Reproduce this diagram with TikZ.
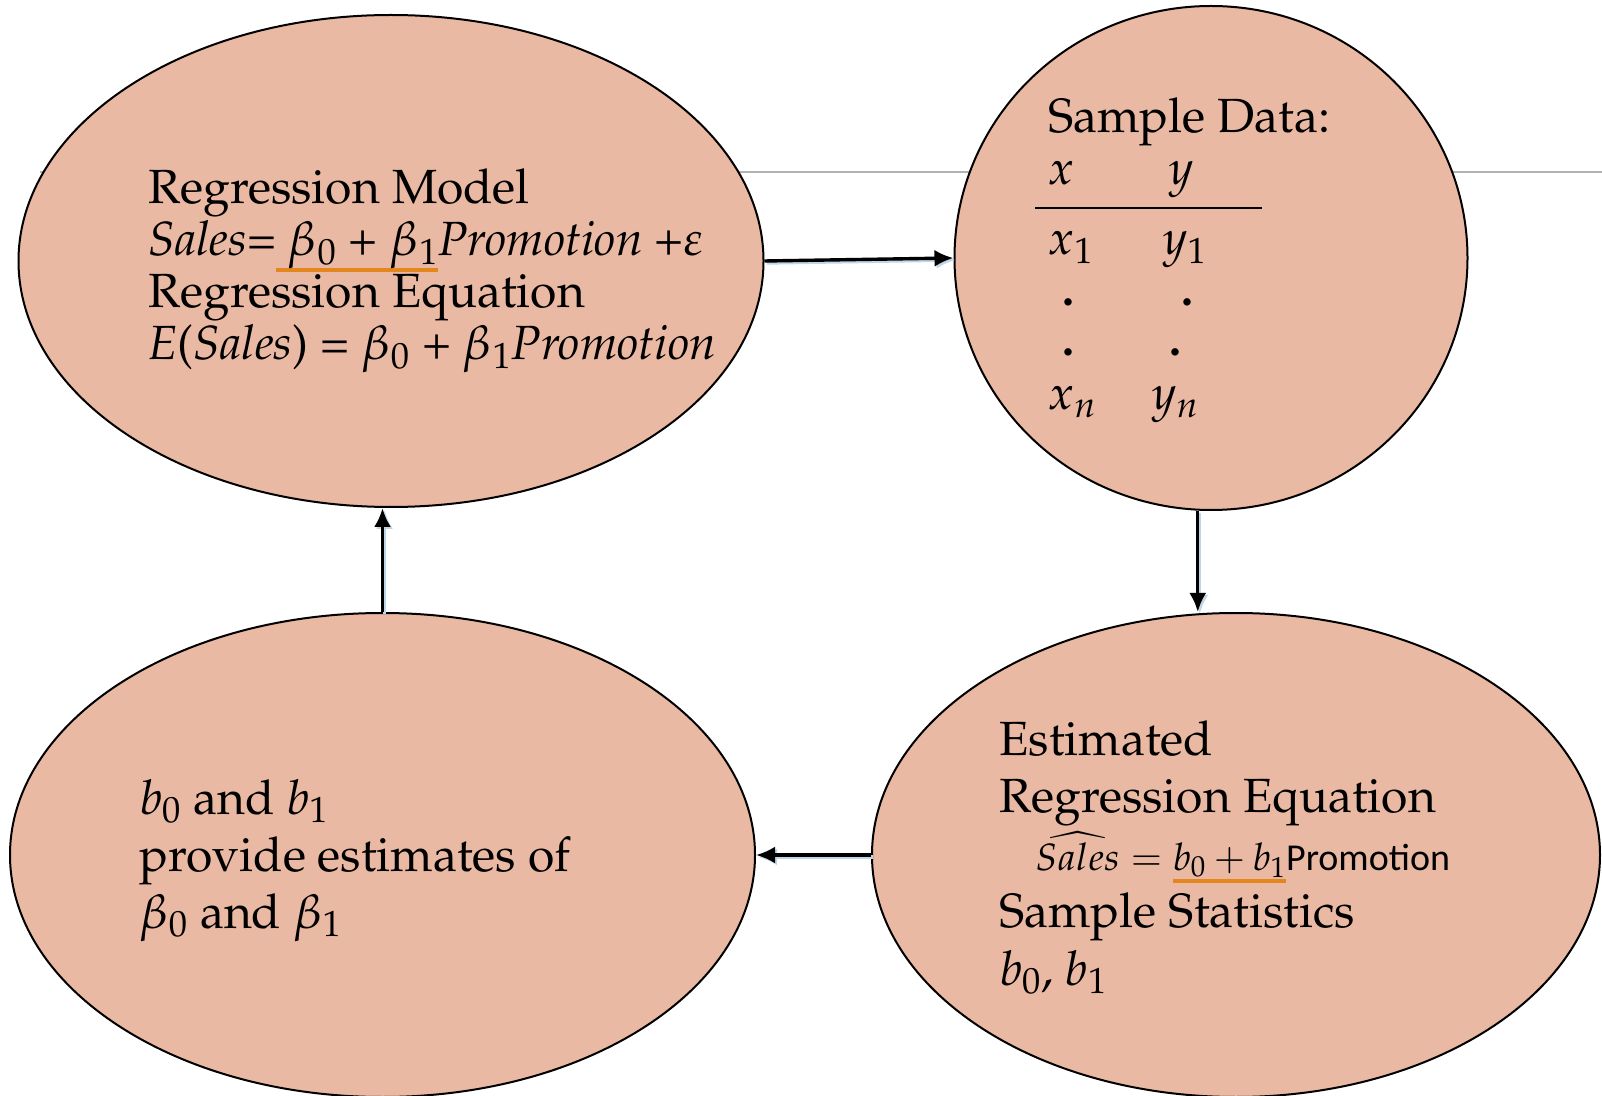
\documentclass[tikz,border=0pt]{standalone}
\usepackage{fontspec}
\usepackage[T1]{fontenc}
\usepackage{mathpazo}
\usetikzlibrary{shapes.geometric,arrows.meta}
\newfontfamily\carlito{Carlito}
\definecolor{salmon}{RGB}{234,185,163}
\definecolor{ulorange}{RGB}{228,134,30}
\definecolor{shade}{RGB}{190,214,232}
\newcommand\pal{\fontencoding{T1}\fontfamily{ppl}\selectfont}
\newcommand\orul[2]{\setbox0\hbox{#2}\rlap{\color{ulorange}\rule[#1]{\wd0}{2pt}}\box0}

\begin{document}
\begin{tikzpicture}[
	x=0.5pt, y=-0.5pt,
	>={Latex[length=9.5pt,width=8.5pt]},
	blob/.style={draw,ellipse,line width=1pt,fill=salmon,inner sep=0},
	txt/.style={anchor=base west,align=left,inner sep=0,font=\pal\fontsize{24}{#1}\selectfont},
	arr/.style={->,line width=1.7pt,preaction={draw=shade,line width=1.7pt,transform canvas={shift={(1pt,-1pt)}}}}
	]
	\useasboundingbox (0,0) rectangle (1602,1096);
	\draw[gray!60, line width=0.6pt] (40,172) -- (1602,172);

	\node[blob, minimum width=372.5pt, minimum height=246pt] (model) at (391,261) {};
	\node[blob, minimum width=256.5pt, minimum height=252pt] (data) at (1211,258) {};
	\node[blob, minimum width=372.5pt, minimum height=242pt] (estim) at (382.5,855) {};
	\node[blob, minimum width=364pt, minimum height=242pt] (stats) at (1236,855) {};

	% text blocks, anchored at the baseline of their last line
	\node[txt=26] (modeltxt) at (148,360) {Regression Model\\
		\textit{Sales}=\orul{-8pt}{ $\beta_0$ + $\beta_1$}\textit{Promotion} +$\varepsilon$\\
		Regression Equation\\
		\textit{E}(\textit{Sales}) = $\beta_0$ + $\beta_1$\textit{Promotion}};
	\node[txt=25] (datatxt) at (1048,410) {Sample Data:\\[1pt]
		\makebox[60.5pt][l]{\rlap{\hspace*{-6.5pt}\rule[-12pt]{113.5pt}{1pt}}$x$}$y$\\[10pt]
		\makebox[57pt][l]{$x_1$}$y_1$\\[0.5pt]
		\makebox[66.5pt][l]{\hspace*{7pt}\textbf{.}}\textbf{.}\\
		\makebox[60.5pt][l]{\hspace*{7pt}\textbf{.}}\textbf{.}\\[2pt]
		\makebox[51.5pt][l]{$x_n$}$y_n$};
	\node[txt=28.5] (estimtxt) at (139,928) {$b_0$ and $b_1$\\
		provide estimates of\\
		$\beta_0$ and $\beta_1$};
	\node[txt=28.75] (statstxt) at (999,985) {Estimated\\
		Regression Equation\\
		\hspace*{18pt}{\fontsize{19}{28.75}\selectfont $\widehat{Sales} = {}$\orul{-6.5pt}{$b_0 + b_1$}{\carlito Promotion}}\\
		Sample Statistics\\
		$b_0$, $b_1$};

	\draw[arr] (model.east) -- (data.west);
	\draw[arr] (data.-93.7) -- (data.-93.7 |- stats.north);
	\draw[arr] (stats.west) -- (estim.east);
	\draw[arr] (estim.north) -- (estim.north |- model.south);
\end{tikzpicture}
\end{document}
